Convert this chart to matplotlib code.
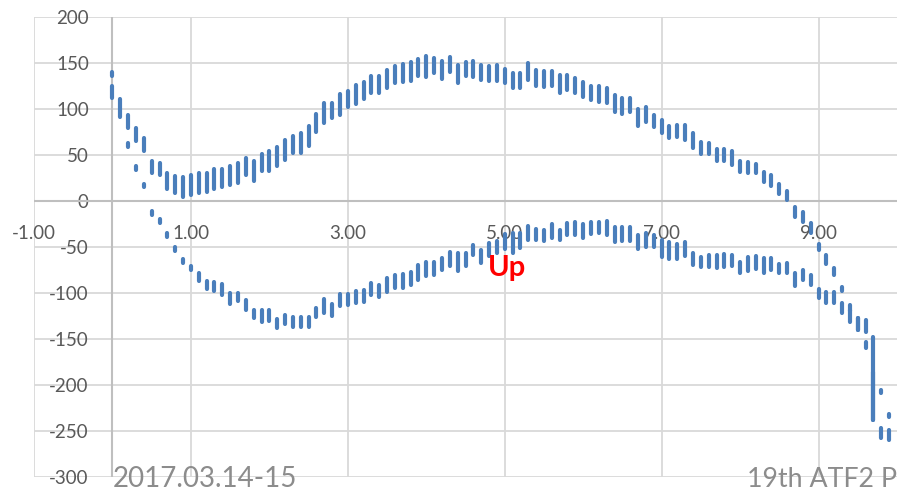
import matplotlib
matplotlib.use("Agg")
import matplotlib.pyplot as plt

plt.rcParams['font.family'] = ['Lato', 'DejaVu Sans']

# upper branch: x, bottom and top of each vertical stack of points
up_x = [0.0, 0.1, 0.2, 0.3, 0.4, 0.5, 0.6, 0.7, 0.8, 0.9,
        1.0, 1.1, 1.2, 1.3, 1.4, 1.5, 1.6, 1.7, 1.8, 1.9,
        2.0, 2.1, 2.2, 2.3, 2.4, 2.5, 2.6, 2.7, 2.8, 2.9,
        3.0, 3.1, 3.2, 3.3, 3.4, 3.5, 3.6, 3.7, 3.8, 3.9,
        4.0, 4.1, 4.2, 4.3, 4.4, 4.5, 4.6, 4.7, 4.8, 4.9,
        5.0, 5.1, 5.2, 5.3, 5.4, 5.5, 5.6, 5.7, 5.8, 5.9,
        6.0, 6.1, 6.2, 6.3, 6.4, 6.5, 6.6, 6.7, 6.8, 6.9,
        7.0, 7.1, 7.2, 7.3, 7.4, 7.5, 7.6, 7.7, 7.8, 7.9,
        8.0, 8.1, 8.2, 8.3, 8.4, 8.5, 8.6, 8.7, 8.8, 8.9,
        9.0, 9.1, 9.2, 9.3, 9.4, 9.5, 9.6, 9.7, 9.8, 9.9]
up_lo = [112, 91, 79, 65, 54, 30, 28, 13, 9, 4,
         7, 9, 10, 13, 15, 17, 20, 28, 22, 33,
         33, 38, 45, 52, 52, 60, 75, 85, 90, 94,
         102, 105, 111, 117, 117, 123, 128, 129, 130, 136,
         135, 139, 133, 140, 128, 136, 135, 131, 130, 130,
         128, 123, 123, 131, 125, 124, 125, 117, 121, 117,
         113, 110, 108, 107, 97, 95, 97, 82, 86, 80,
         74, 68, 70, 66, 58, 51, 51, 43, 44, 39,
         31, 30, 30, 21, 16, 8, 1, -17, -23, -35,
         -53, -68, -80, -98, -120, -140, -142, -238, -209, -235]
up_hi = [125, 111, 93, 79, 69, 43, 41, 30, 27, 26,
         28, 30, 30, 35, 35, 38, 41, 47, 44, 51,
         54, 59, 66, 71, 74, 81, 95, 106, 107, 116,
         120, 126, 129, 136, 136, 142, 147, 149, 151, 154,
         158, 155, 152, 156, 148, 151, 152, 148, 147, 148,
         144, 139, 139, 150, 142, 141, 141, 137, 137, 134,
         129, 125, 125, 123, 115, 112, 112, 100, 102, 94,
         88, 82, 83, 83, 74, 64, 63, 56, 56, 54,
         44, 42, 40, 32, 28, 19, 11, -7, -12, -24,
         -47, -59, -73, -94, -113, -127, -129, -148, -205, -231]

# lower branch
lo_x = [0.0, 0.2, 0.3, 0.4, 0.5, 0.6, 0.7, 0.8, 0.9,
        1.0, 1.1, 1.2, 1.3, 1.4, 1.5, 1.6, 1.7, 1.8, 1.9,
        2.0, 2.1, 2.2, 2.3, 2.4, 2.5, 2.6, 2.7, 2.8, 2.9,
        3.0, 3.1, 3.2, 3.3, 3.4, 3.5, 3.6, 3.7, 3.8, 3.9,
        4.0, 4.1, 4.2, 4.3, 4.4, 4.5, 4.6, 4.7, 4.8, 4.9,
        5.0, 5.1, 5.2, 5.3, 5.4, 5.5, 5.6, 5.7, 5.8, 5.9,
        6.0, 6.1, 6.2, 6.3, 6.4, 6.5, 6.6, 6.7, 6.8, 6.9,
        7.0, 7.1, 7.2, 7.3, 7.4, 7.5, 7.6, 7.7, 7.8, 7.9,
        8.0, 8.1, 8.2, 8.3, 8.4, 8.5, 8.6, 8.7, 8.8, 8.9,
        9.0, 9.1, 9.2, 9.3, 9.4, 9.5, 9.6, 9.7, 9.8, 9.9]
lo_lo = [136, 59, 34, 15, -15, -24, -39, -54, -67,
         -75, -87, -96, -98, -102, -112, -109, -118, -127, -131,
         -130, -138, -134, -137, -137, -137, -126, -122, -125, -114,
         -113, -111, -110, -102, -104, -99, -95, -95, -91, -86,
         -82, -80, -75, -71, -76, -71, -59, -67, -60, -57,
         -52, -57, -51, -42, -42, -44, -40, -42, -37, -37,
         -40, -36, -35, -37, -45, -43, -43, -52, -50, -50,
         -61, -63, -63, -60, -70, -72, -72, -73, -72, -71,
         -78, -76, -74, -78, -75, -78, -78, -92, -86, -91,
         -105, -111, -111, -122, -131, -140, -160, -238, -258, -260]
lo_hi = [140, 63, 38, 19, -11, -20, -35, -50, -63,
         -71, -78, -87, -88, -90, -100, -100, -108, -118, -119,
         -119, -128, -124, -126, -126, -126, -116, -107, -112, -101,
         -101, -98, -97, -89, -91, -84, -80, -79, -77, -70,
         -66, -66, -62, -55, -57, -57, -48, -53, -46, -44,
         -36, -35, -35, -27, -30, -31, -25, -31, -24, -23,
         -25, -23, -23, -22, -28, -28, -28, -37, -35, -37,
         -42, -45, -47, -45, -57, -61, -59, -59, -58, -59,
         -66, -61, -60, -62, -62, -68, -67, -78, -75, -80,
         -96, -99, -99, -111, -118, -127, -153, -186, -247, -249]

x_ticks = [-1, 1, 3, 5, 7, 9]
y_ticks = [-300, -250, -200, -150, -100, -50, 0, 50, 100, 150, 200]

blue = '#4a7ebb'
grid = '#d9d9d9'
label_col = '#595959'

fig = plt.figure(figsize=(8.97, 4.92), dpi=100)
ax = fig.add_axes([34 / 897, 15 / 492, 863 / 897, 460 / 492])
ax.set_xlim(-1, 10)
ax.set_ylim(-300, 200)

# axes cross at (0, 0), labels sit next to them like in Excel
for s in ax.spines.values():
    s.set_visible(False)
ax.spines['bottom'].set_position(('data', 0))
ax.spines['left'].set_position(('data', 0))

ax.set_xticks(x_ticks)
ax.set_xticklabels([f'{v:.2f}' for v in x_ticks])
ax.set_yticks(y_ticks)
ax.set_yticklabels([str(v) for v in y_ticks])
ax.tick_params(axis='both', length=0, labelsize=13.5, labelcolor=label_col)
ax.tick_params(axis='x', pad=17)
ax.tick_params(axis='y', pad=17)
ax.grid(True, color=grid, lw=1.3)
ax.set_axisbelow(True)
ax.axhline(0, color='#bfbfbf', lw=1.5, zorder=1)
ax.axvline(0, color='#bfbfbf', lw=1.5, zorder=1)

for xs, lo, hi in [(up_x, up_lo, up_hi), (lo_x, lo_lo, lo_hi)]:
    lc = ax.vlines(xs, lo, hi, color=blue, lw=3.0, zorder=3)
    lc.set_capstyle('round')

ax.text(5.03, -73, 'Up', color='red', fontsize=21, fontweight='bold',
        ha='center', va='center')

fig.text(113 / 897, 1 - 487 / 492, '2017.03.14-15', color='#8c8c8c',
         fontsize=20, va='baseline', ha='left')
fig.text(747 / 897, 1 - 487 / 492, '19th ATF2 P', color='#8c8c8c',
         fontsize=19.3, va='baseline', ha='left')

fig.savefig('out.png', dpi=100)
